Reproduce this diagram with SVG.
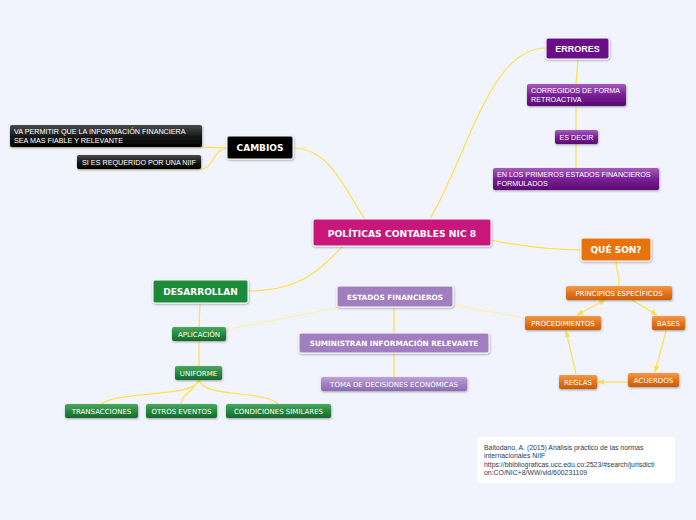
<svg xmlns="http://www.w3.org/2000/svg" width="696" height="520" viewBox="0 0 696 520">
<defs>
<linearGradient id="gBlack" x1="0" y1="0" x2="0" y2="1"><stop offset="0" stop-color="#4a4a4a"/><stop offset="0.5" stop-color="#1a1a1a"/><stop offset="1" stop-color="#000"/></linearGradient>
<linearGradient id="gPurple" x1="0" y1="0" x2="0" y2="1"><stop offset="0" stop-color="#a55cbb"/><stop offset="0.5" stop-color="#7a2096"/><stop offset="1" stop-color="#5a0a72"/></linearGradient>
<linearGradient id="gOrange" x1="0" y1="0" x2="0" y2="1"><stop offset="0" stop-color="#f29a48"/><stop offset="0.5" stop-color="#e2741c"/><stop offset="1" stop-color="#c85e0c"/></linearGradient>
<linearGradient id="gGreen" x1="0" y1="0" x2="0" y2="1"><stop offset="0" stop-color="#4aa860"/><stop offset="0.5" stop-color="#268a3e"/><stop offset="1" stop-color="#17692c"/></linearGradient>
<linearGradient id="gLav" x1="0" y1="0" x2="0" y2="1"><stop offset="0" stop-color="#bda2d6"/><stop offset="0.5" stop-color="#a283c4"/><stop offset="1" stop-color="#8c6cae"/></linearGradient>
<marker id="arr" viewBox="0 0 10 10" refX="9" refY="5" markerWidth="7" markerHeight="7" orient="auto-start-reverse" markerUnits="userSpaceOnUse"><path d="M0,1 L10,5 L0,9 z" fill="#ffe04a"/></marker>
<filter id="sh" x="-10%" y="-20%" width="120%" height="150%"><feDropShadow dx="0.5" dy="1" stdDeviation="0.8" flood-color="#000" flood-opacity="0.35"/></filter>
</defs>
<style>
.main{stroke:#fff;stroke-width:1;filter:url(#sh)}
.sub{filter:url(#sh)}
.tm{font-family:"DejaVu Sans",Verdana,sans-serif;font-weight:bold;fill:#fff;text-anchor:middle}
.ts{font-family:"DejaVu Sans",Verdana,sans-serif;fill:#fff;text-anchor:middle;font-size:7px}
.ta{font-family:"Liberation Sans",Arial,sans-serif;fill:#fff;font-size:7.2px}
.c{fill:none;stroke:#ffe04a;stroke-width:1.2}
.cf{fill:none;stroke:#fff0a8;stroke-width:1.2}
.cite{font-family:"Liberation Sans",Arial,sans-serif;fill:#2b3a55;font-size:6.9px}
</style>
<rect width="696" height="520" fill="#f1f4fd"/>

<g id="connectors">
<path class="c" d="M365,219 C345,190 330,148 293,148"/>
<path class="c" d="M227,148 C215,148 210,147 202,147 L10,147"/>
<path class="c" d="M227,148 C212,150 214,169 201,169 L77,169"/>
<path class="c" d="M430,219 C470,150 490,48 546,48"/>
<path class="c" d="M578,59 L576,84"/>
<path class="c" d="M576,106 L576,130"/>
<path class="c" d="M576,144 L576,168"/>
<path class="c" d="M491,240 C530,248 560,250 581,250"/>
<path class="c" d="M616,261 C616,272 620,276 619,286"/>
<path class="c" d="M343,246 C320,270 300,291 248,291"/>
<path class="c" d="M200,303 L199,327"/>
<path class="c" d="M199,341 L199,366"/>
<path class="c" d="M199,380 C195,398 120,390 101,404"/>
<path class="c" d="M199,380 C190,395 183,393 181,404"/>
<path class="c" d="M199,380 C203,398 265,390 278,404"/>
<path class="cf" d="M340,307 L226,330"/>
<path class="cf" d="M453,305 L525,318"/>
<path class="c" d="M394,307 L394,333"/>
<path class="c" d="M394,353 L394,377"/>
<path class="c" d="M605,300 L577,315" marker-start="url(#arr)" marker-end="url(#arr)"/>
<path class="c" d="M632,300 L657,315" marker-end="url(#arr)"/>
<path class="c" d="M666,331 L655,372" marker-end="url(#arr)"/>
<path class="c" d="M628,382 L598,382" marker-end="url(#arr)"/>
<path class="c" d="M576,374 L566,331" marker-end="url(#arr)"/>
</g>

<g id="central">
<rect class="main" x="313" y="219" width="178" height="27" rx="2" fill="#c8177a"/>
<text class="tm" x="402" y="236.5" font-size="9.2">POLÍTICAS CONTABLES NIC 8</text>
</g>

<g id="cambios">
<rect class="main" x="227" y="136" width="66" height="23" rx="2" fill="#000"/>
<text class="tm" x="260" y="151" font-size="9">CAMBIOS</text>
</g>
<g id="va-permitir">
<rect class="sub" x="10" y="125" width="192" height="22" rx="2" fill="url(#gBlack)"/>
<text class="ta" x="14" y="133.5">VA PERMITIR QUE LA INFORMACIÓN FINANCIERA</text>
<text class="ta" x="14" y="142.5">SEA MAS FIABLE Y RELEVANTE</text>
</g>
<g id="si-es-requerido">
<rect class="sub" x="77" y="155" width="124" height="14" rx="2" fill="url(#gBlack)"/>
<text class="ta" x="139" y="164.5" text-anchor="middle">SI ES REQUERIDO POR UNA NIIF</text>
</g>

<g id="errores">
<rect class="main" x="546" y="38" width="63" height="21" rx="2" fill="#6b0c88"/>
<text class="tm" x="577.5" y="52" font-size="9" style="font-family:'Liberation Sans',Arial,sans-serif">ERRORES</text>
</g>
<g id="corregidos">
<rect class="sub" x="527" y="84" width="99" height="22" rx="2" fill="url(#gPurple)"/>
<text class="ta" x="531" y="93">CORREGIDOS DE FORMA</text>
<text class="ta" x="531" y="101.5">RETROACTIVA</text>
</g>
<g id="es-decir">
<rect class="sub" x="555" y="130" width="43" height="14" rx="2" fill="url(#gPurple)"/>
<text class="ta" x="576.5" y="139.5" text-anchor="middle">ES DECIR</text>
</g>
<g id="en-los-primeros">
<rect class="sub" x="493" y="168" width="166" height="22" rx="2" fill="url(#gPurple)"/>
<text class="ta" x="497" y="177">EN LOS PRIMEROS ESTADOS FINANCIEROS</text>
<text class="ta" x="497" y="185.5">FORMULADOS</text>
</g>

<g id="que-son">
<rect class="main" x="581" y="238" width="70" height="23" rx="2" fill="#e8730f"/>
<text class="tm" x="616" y="253" font-size="9">QUÉ SON?</text>
</g>
<g id="principios">
<rect class="sub" x="566" y="286" width="106" height="14" rx="2" fill="url(#gOrange)"/>
<text class="ts" x="619" y="295.5">PRINCIPIOS ESPECÍFICOS</text>
</g>
<g id="procedimientos">
<rect class="sub" x="525" y="316" width="76" height="14" rx="2" fill="url(#gOrange)"/>
<text class="ts" x="563" y="325.5">PROCEDIMIENTOS</text>
</g>
<g id="bases">
<rect class="sub" x="652" y="316" width="33" height="14" rx="2" fill="url(#gOrange)"/>
<text class="ts" x="668.5" y="325.5">BASES</text>
</g>
<g id="acuerdos">
<rect class="sub" x="628" y="373" width="51" height="14" rx="2" fill="url(#gOrange)"/>
<text class="ts" x="653.5" y="382.5">ACUERDOS</text>
</g>
<g id="reglas">
<rect class="sub" x="559" y="375" width="38" height="14" rx="2" fill="url(#gOrange)"/>
<text class="ts" x="578" y="384.5">REGLAS</text>
</g>

<g id="desarrollan">
<rect class="main" x="153" y="280" width="95" height="23" rx="2" fill="#1d8a3a"/>
<text class="tm" x="200.5" y="295" font-size="9">DESARROLLAN</text>
</g>
<g id="aplicacion">
<rect class="sub" x="172" y="327" width="54" height="14" rx="2" fill="url(#gGreen)"/>
<text class="ts" x="199" y="336.5">APLICACIÓN</text>
</g>
<g id="uniforme">
<rect class="sub" x="175" y="366" width="47" height="14" rx="2" fill="url(#gGreen)"/>
<text class="ts" x="198.5" y="375.5">UNIFORME</text>
</g>
<g id="transacciones">
<rect class="sub" x="65" y="404" width="73" height="14" rx="2" fill="url(#gGreen)"/>
<text class="ts" x="101.5" y="413.5">TRANSACCIONES</text>
</g>
<g id="otros-eventos">
<rect class="sub" x="146" y="404" width="71" height="14" rx="2" fill="url(#gGreen)"/>
<text class="ts" x="181.5" y="413.5">OTROS EVENTOS</text>
</g>
<g id="condiciones">
<rect class="sub" x="226" y="404" width="105" height="14" rx="2" fill="url(#gGreen)"/>
<text class="ts" x="278.5" y="413.5">CONDICIONES SIMILARES</text>
</g>

<g id="estados-financieros">
<rect class="main" x="337" y="286" width="116" height="21" rx="2" fill="#a07ec0"/>
<text class="tm" x="395" y="299.5" font-size="7.3">ESTADOS FINANCIEROS</text>
</g>
<g id="suministran">
<rect class="main" x="299" y="333" width="190" height="20" rx="2" fill="#a07ec0"/>
<text class="tm" x="394" y="346" font-size="7.3">SUMINISTRAN INFORMACIÓN RELEVANTE</text>
</g>
<g id="toma-decisiones">
<rect class="sub" x="321" y="377" width="146" height="14" rx="2" fill="url(#gLav)"/>
<text class="ts" x="394" y="386.5">TOMA DE DECISIONES ECONÓMICAS</text>
</g>

<g id="citation">
<rect x="477" y="437" width="198" height="46" rx="3" fill="#fff"/>
<text class="cite" x="484" y="449.5">Baltodano, A. (2015) Análisis práctico de las normas</text>
<text class="cite" x="484" y="458">internacionales NIIF</text>
<text class="cite" x="484" y="466.5">https://bbibliograficas.ucc.edu.co:2523/#search/jurisdicti</text>
<text class="cite" x="484" y="475">on:CO/NIC+8/WW/vid/600231109</text>
</g>
</svg>
